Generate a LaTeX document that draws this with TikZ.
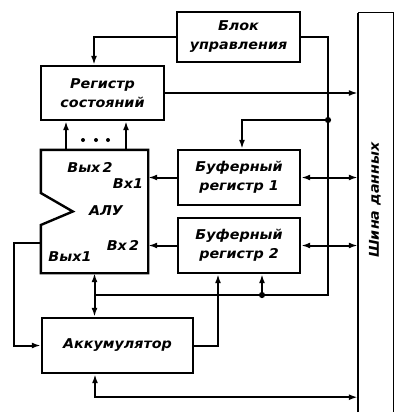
\documentclass[tikz,border=0pt]{standalone}
\usepackage{fontspec}
\newfontfamily\schemefont{DejaVu Sans}[FakeStretch=1.06]
\usetikzlibrary{arrows.meta}
\tikzset{
  blk/.style={draw, line width=2.4pt, align=center, inner sep=0pt},
  ln/.style={line width=2pt},
  ar/.style={ln, -{Latex[length=9pt,width=6pt]}},
  arr/.style={ln, {Latex[length=9pt,width=6pt]}-{Latex[length=9pt,width=6pt]}},
  jn/.style={circle, fill, inner sep=2.2pt}
}
\begin{document}
\begin{tikzpicture}[x=1pt,y=-1pt,font=\schemefont\bfseries\itshape\fontsize{13.5}{19}\selectfont]
\useasboundingbox (0,0) rectangle (396,413);
% blocks
\node[blk, minimum width=123, minimum height=50] (upr) at (238.5,37) {Блок\\управления};
\node[blk, minimum width=123, minimum height=54] (rs) at (102.5,93) {Регистр\\состояний};
\node[blk, minimum width=122, minimum height=55] (br1) at (239,177.5) {Буферный\\регистр 1};
\node[blk, minimum width=122, minimum height=55] (br2) at (239,245.5) {Буферный\\регистр 2};
\node[blk, minimum width=151, minimum height=55] (acc) at (117.5,345.5) {Аккумулятор};
\node[minimum width=107, minimum height=123, inner sep=0pt] (alu) at (94.5,211.5) {};
\node[minimum width=35, minimum height=399, inner sep=0pt] (bus) at (375.5,212.5) {};
% ALU outline with notch
\draw[line width=2.4pt] (alu.north west) -- (alu.north east) -- (alu.south east) -- (alu.south west)
  -- ([yshift=-13.5pt]alu.west) -- ([xshift=32pt]alu.west) -- ([yshift=18.5pt]alu.west) -- cycle;
\node (vyh2) at (90,167) {Вых\,2};
\node (vx1) at (128,184) {Вх1};
\node (aluname) at (106,211) {АЛУ};
\node (vx2) at (123,245) {Вх\,2};
\node (vyh1) at (70,257) {Вых1};
% data bus
\draw[line width=2.4pt] (bus.south west) -- (bus.north west);
\draw[line width=1pt] (bus.north west) -- (bus.north east) -- (bus.south east);
\node[rotate=90] (busname) at (375,200) {Шина данных};
% control lines
\coordinate (j1) at (328,120);
\coordinate (j2) at (262,295);
\coordinate (j3) at (94.5,295);
\coordinate (ctl) at (328,295);
\draw[ar] (upr.west) -| ([xshift=-8.5pt]rs.north);
\draw[ln] (upr.east) -| (ctl) -- (j3);
\draw[ar] (j3) -- (alu.south);
\draw[ar] (j3) -- (acc.north -| j3);
\draw[ar] (j1) -| ([xshift=3pt]br1.north);
\draw[ar] (j2) -- (br2.south -| j2);
\node[jn] at (j1) {};
\node[jn] at (j2) {};
% data lines
\draw[ar] (rs.east) -- (rs.east -| bus.west);
\draw[ar] ([xshift=-28.5pt]alu.north) -- ([xshift=-28.5pt]alu.north |- rs.south);
\draw[ar] ([xshift=31.5pt]alu.north) -- ([xshift=31.5pt]alu.north |- rs.south);
\foreach \i in {83,96,108} \fill (\i,140) circle (2);
\draw[ar] (br1.west) -- (br1.west -| alu.east);
\draw[arr] (br1.east) -- (br1.east -| bus.west);
\draw[ar] (br2.west) -- (br2.west -| alu.east);
\draw[arr] (br2.east) -- (br2.east -| bus.west);
\draw[ar] ([yshift=-31.5pt]alu.west) -- ++(-27,0) |- (acc.west);
\draw[ar] (acc.east) -| ([xshift=-21pt]br2.south);
\draw[arr] ([xshift=-22.5pt]acc.south) |- ([yshift=15pt]bus.south west);
\end{tikzpicture}
\end{document}
